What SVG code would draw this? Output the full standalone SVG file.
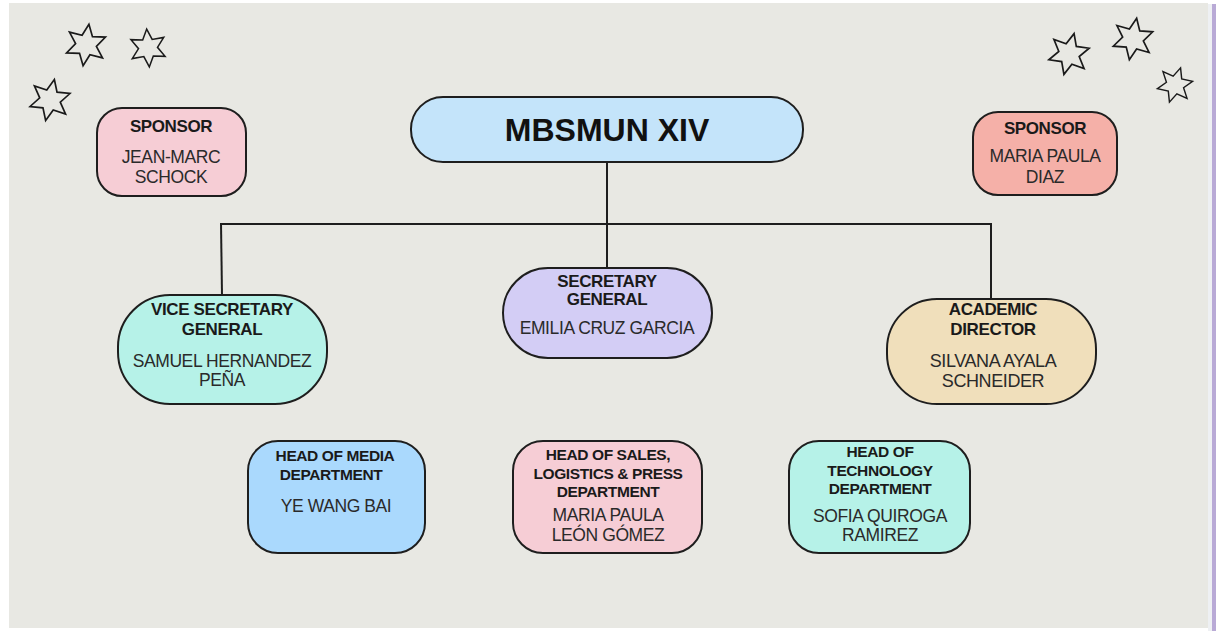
<svg xmlns="http://www.w3.org/2000/svg" xmlns:xlink="http://www.w3.org/1999/xlink" width="1216" height="631" viewBox="0 0 1216 631">
<style>
.box{stroke:#1e1e1e;stroke-width:2}
.t{font-family:"Liberation Sans",Arial,sans-serif;font-weight:bold;font-size:15.5px;fill:#1a1a1a;text-anchor:middle;letter-spacing:-0.4px}
.tl{font-size:17px}
.n{font-family:"Liberation Sans",Arial,sans-serif;font-size:17.5px;fill:#2a2a2a;text-anchor:middle;letter-spacing:-0.4px}
.c{stroke:#1e1e1e;stroke-width:2;fill:none}
.star{fill:none;stroke:#1a1a1a;stroke-width:1.6;stroke-linejoin:miter}
</style>
<defs>
<path id="star" d="M0,-20 L5,-8.7 L17.3,-10 L10,0 L17.3,10 L5,8.7 L0,20 L-5,8.7 L-17.3,10 L-10,0 L-17.3,-10 L-5,-8.7 Z"/>
</defs>
<rect x="0" y="0" width="1216" height="631" fill="#ffffff"/>
<rect x="9" y="3" width="1199" height="625" fill="#e8e8e3"/>
<rect x="1208" y="4" width="4" height="627" fill="#eef0f3"/>
<rect x="1212" y="4" width="4" height="627" fill="#b9aad6"/>
<g id="stars">
<use xlink:href="#star" class="star" transform="translate(86,45) rotate(8) scale(1.05)"/>
<use xlink:href="#star" class="star" transform="translate(148,48) rotate(-4) scale(0.95)"/>
<use xlink:href="#star" class="star" transform="translate(50,100) rotate(12) scale(1.05)"/>
<use xlink:href="#star" class="star" transform="translate(1069,54) rotate(14) scale(1.05)"/>
<use xlink:href="#star" class="star" transform="translate(1133,39) rotate(10) scale(1.05)"/>
<use xlink:href="#star" class="star" transform="translate(1175,85) rotate(18) scale(0.9)"/>
</g>
<g id="connectors">
<line class="c" x1="607" y1="162" x2="607" y2="268"/>
<line class="c" x1="220" y1="224" x2="992" y2="224"/>
<line class="c" x1="221" y1="223" x2="222" y2="295"/>
<line class="c" x1="991" y1="223" x2="991" y2="300"/>
</g>
<g id="mbsmun">
<rect class="box" x="411" y="97" width="392" height="65" rx="32" fill="#c4e4fa"/>
<text x="607" y="141" style="font-family:'Liberation Sans',Arial,sans-serif;font-weight:bold;font-size:32px;fill:#111;text-anchor:middle">MBSMUN XIV</text>
</g>
<g id="sponsor-left">
<rect class="box" x="97" y="108" width="149" height="88" rx="25" fill="#f6cdd5"/>
<text class="t tl" x="171" y="132">SPONSOR</text>
<text class="n" x="171" y="163">JEAN-MARC</text>
<text class="n" x="171" y="183">SCHOCK</text>
</g>
<g id="sponsor-right">
<rect class="box" x="973" y="112" width="144" height="83" rx="25" fill="#f5b0a8"/>
<text class="t tl" x="1045" y="134">SPONSOR</text>
<text class="n" x="1045" y="162">MARIA PAULA</text>
<text class="n" x="1045" y="183">DIAZ</text>
</g>
<g id="vice-secretary">
<rect class="box" x="118" y="295" width="209" height="109" rx="52" fill="#b6f2e8"/>
<text class="t tl" x="222" y="315">VICE SECRETARY</text>
<text class="t tl" x="222" y="335">GENERAL</text>
<text class="n" x="222" y="367">SAMUEL HERNANDEZ</text>
<text class="n" x="222" y="386">PEÑA</text>
</g>
<g id="secretary-general">
<rect class="box" x="503" y="268" width="209" height="90" rx="45" fill="#d3cdf5"/>
<text class="t tl" x="607" y="287">SECRETARY</text>
<text class="t tl" x="607" y="305">GENERAL</text>
<text class="n" x="607" y="334">EMILIA CRUZ GARCIA</text>
</g>
<g id="academic-director">
<rect class="box" x="887" y="299" width="209" height="105" rx="50" fill="#f0dfbb"/>
<text class="t tl" x="993" y="315">ACADEMIC</text>
<text class="t tl" x="993" y="335">DIRECTOR</text>
<text class="n" x="993" y="367" style="font-size:18px">SILVANA AYALA</text>
<text class="n" x="993" y="387" style="font-size:18px">SCHNEIDER</text>
</g>
<g id="head-media">
<rect class="box" x="248" y="441" width="177" height="112" rx="30" fill="#aad9fd"/>
<text class="t" x="335" y="461">HEAD OF MEDIA</text>
<text class="t" x="331" y="480">DEPARTMENT</text>
<text class="n" x="336" y="512">YE WANG BAI</text>
</g>
<g id="head-sales">
<rect class="box" x="513" y="441" width="189" height="112" rx="30" fill="#f6cdd5"/>
<text class="t" x="608" y="460">HEAD OF SALES,</text>
<text class="t" x="608" y="479">LOGISTICS &amp; PRESS</text>
<text class="t" x="608" y="497">DEPARTMENT</text>
<text class="n" x="608" y="521">MARIA PAULA</text>
<text class="n" x="608" y="541">LEÓN GÓMEZ</text>
</g>
<g id="head-technology">
<rect class="box" x="789" y="441" width="181" height="112" rx="30" fill="#b6f2e8"/>
<text class="t" x="880" y="457">HEAD OF</text>
<text class="t" x="880" y="476">TECHNOLOGY</text>
<text class="t" x="880" y="494">DEPARTMENT</text>
<text class="n" x="880" y="522">SOFIA QUIROGA</text>
<text class="n" x="880" y="541">RAMIREZ</text>
</g>
</svg>
